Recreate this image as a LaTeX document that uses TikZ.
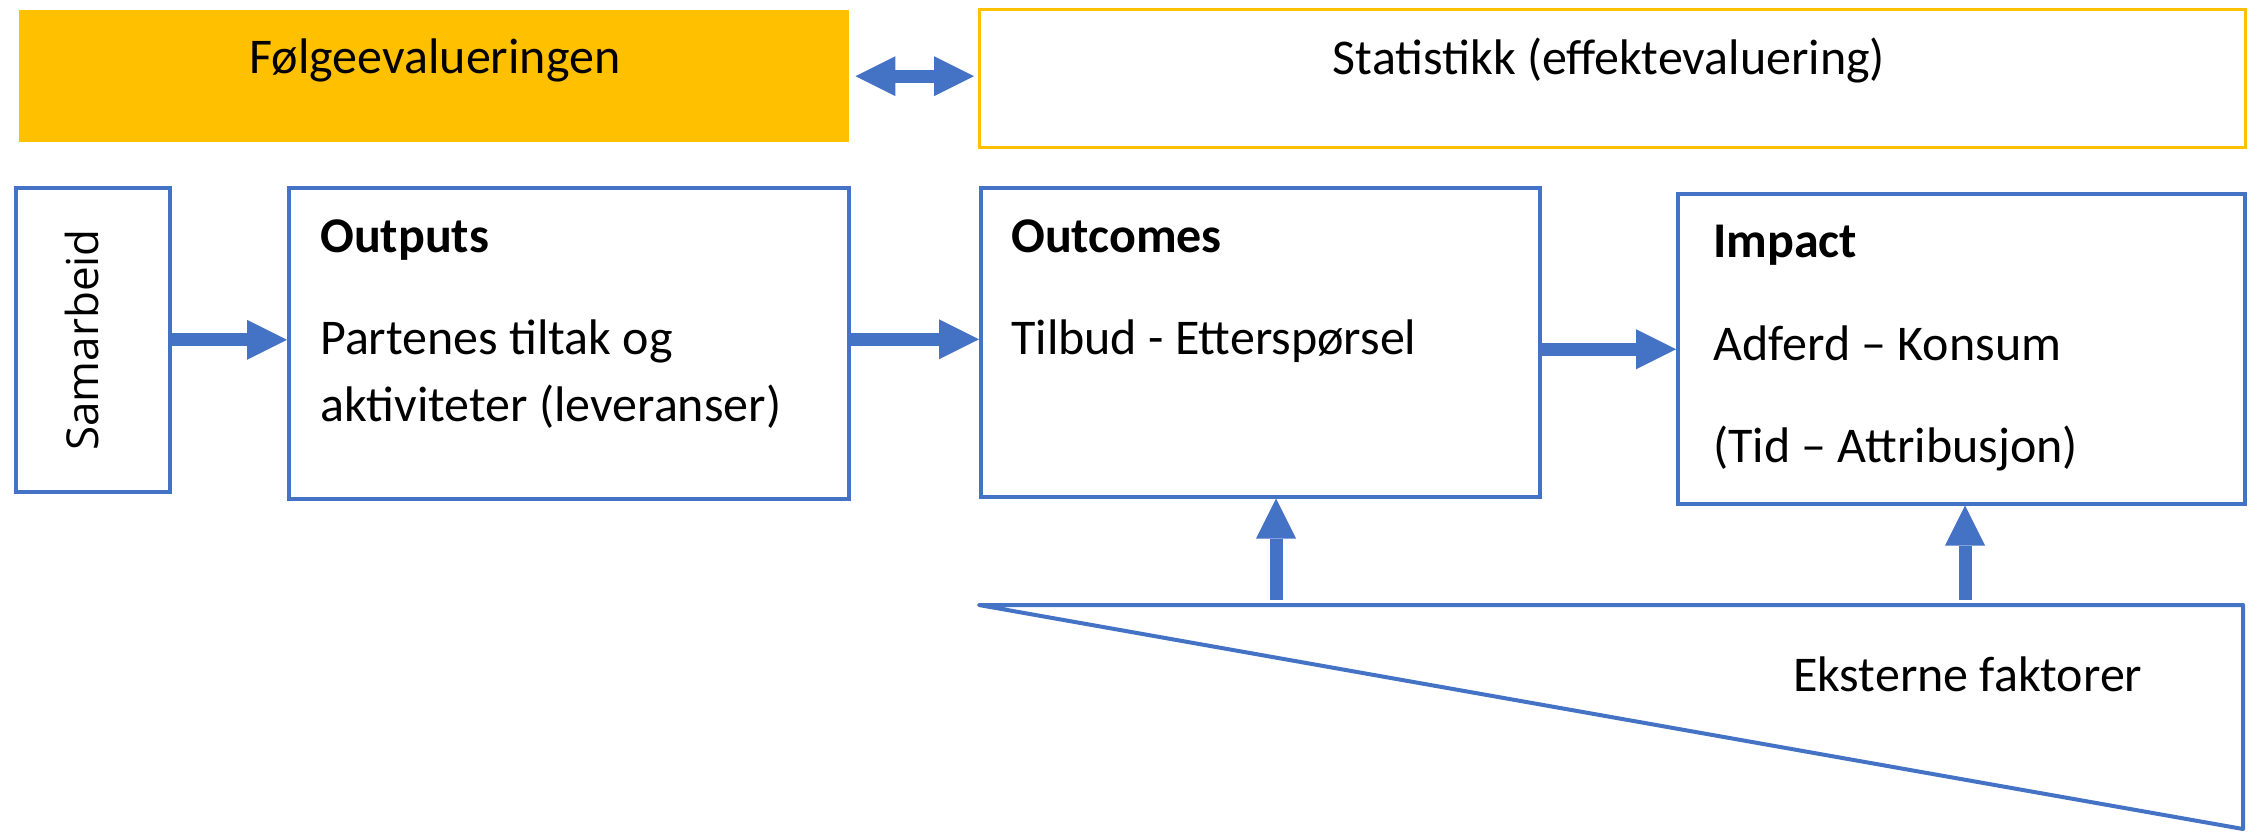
\documentclass[tikz,border=0pt]{standalone}
\usepackage{fontspec}
\setmainfont{Carlito}
\newfontfamily\samfont{Open Sans}
\usetikzlibrary{arrows.meta}
\definecolor{bl}{HTML}{4472C4}
\definecolor{gold}{HTML}{FFC000}
\begin{document}
\begin{tikzpicture}[x=1pt,y=1pt,
  box/.style={draw=bl, line width=3.5pt, anchor=north west, inner sep=0pt},
  blockarrow/.style={draw=bl, line width=13pt, -{Triangle[length=40pt,width=40pt,line width=0pt]}},
  dblarrow/.style={draw=bl, line width=13pt, {Triangle[length=40pt,width=40pt,line width=0pt]}-{Triangle[length=40pt,width=40pt,line width=0pt]}},
  txt/.style={font=\fontsize{50}{60}\selectfont, inner sep=0pt, anchor=base west},
  btxt/.style={txt, font=\fontsize{50}{60}\selectfont\bfseries}]
\useasboundingbox (0,0) rectangle (2257,-833);
% top row
\node[fill=gold, anchor=north west, minimum width=830pt, minimum height=132pt, inner sep=0pt] (folge) at (19,-10) {};
\node[draw=gold, line width=3pt, anchor=north west, minimum width=1266pt, minimum height=138pt, inner sep=0pt] (stat) at (978,-8) {};
\node[txt, anchor=base] (tfolge) at (435,-73) {Følgeevalueringen};
\node[txt, anchor=base] (tstat) at (1609,-74) {Statistikk (effektevaluering)};
\draw[dblarrow] ([xshift=6pt]folge.east) -- ([xshift=-4pt]folge.east -| stat.west);
% boxes
\node[box, minimum width=154pt, minimum height=304pt] (sam) at (14,-186) {};
\node[box, minimum width=560pt, minimum height=311pt] (outp) at (287,-186) {};
\node[box, minimum width=559pt, minimum height=309pt] (outc) at (979,-186) {};
\node[box, minimum width=567pt, minimum height=310pt] (imp) at (1676,-192) {};
\node[rotate=90, inner sep=0pt, anchor=base, font=\samfont\fontsize{44}{50}\selectfont] (tsam) at (98,-340) {Samarbeid};
\node[btxt] (toutp) at (320,-252) {Outputs};
\node[txt] (toutp1) at (320,-354) {Partenes tiltak og};
\node[txt] (toutp2) at (320,-421) {aktiviteter (leveranser)};
\node[btxt] (toutc) at (1011,-252) {Outcomes};
\node[txt] (toutc1) at (1011,-354) {Tilbud - Etterspørsel};
\node[btxt] (timp) at (1713,-257) {Impact};
\node[txt] (timp1) at (1713,-360) {Adferd – Konsum};
\node[txt] (timp2) at (1713,-462) {(Tid – Attribusjon)};
% triangle
\coordinate (ta) at (979,-605);
\coordinate (tb) at (2243,-605);
\coordinate (tc) at (2243,-829);
\draw[bl, line width=4pt, line join=round] (ta) -- (tb) -- (tc) -- cycle;
\node[txt] (teks) at (1793,-691) {Eksterne faktorer};
% arrows
\draw[blockarrow] (sam.east) -- (sam.east -| outp.west);
\draw[blockarrow] ([yshift=4pt]outp.east) -- ([yshift=4pt]outp.east -| outc.west);
\draw[blockarrow] ([yshift=-7pt]outc.east) -- ([yshift=-7pt]outc.east -| imp.west);
\coordinate (f1) at (1276,-600);
\coordinate (f2) at (1965,-600);
\draw[blockarrow] (f1) -- (f1 |- outc.south);
\draw[blockarrow] (f2) -- (f2 |- imp.south);
\end{tikzpicture}
\end{document}
